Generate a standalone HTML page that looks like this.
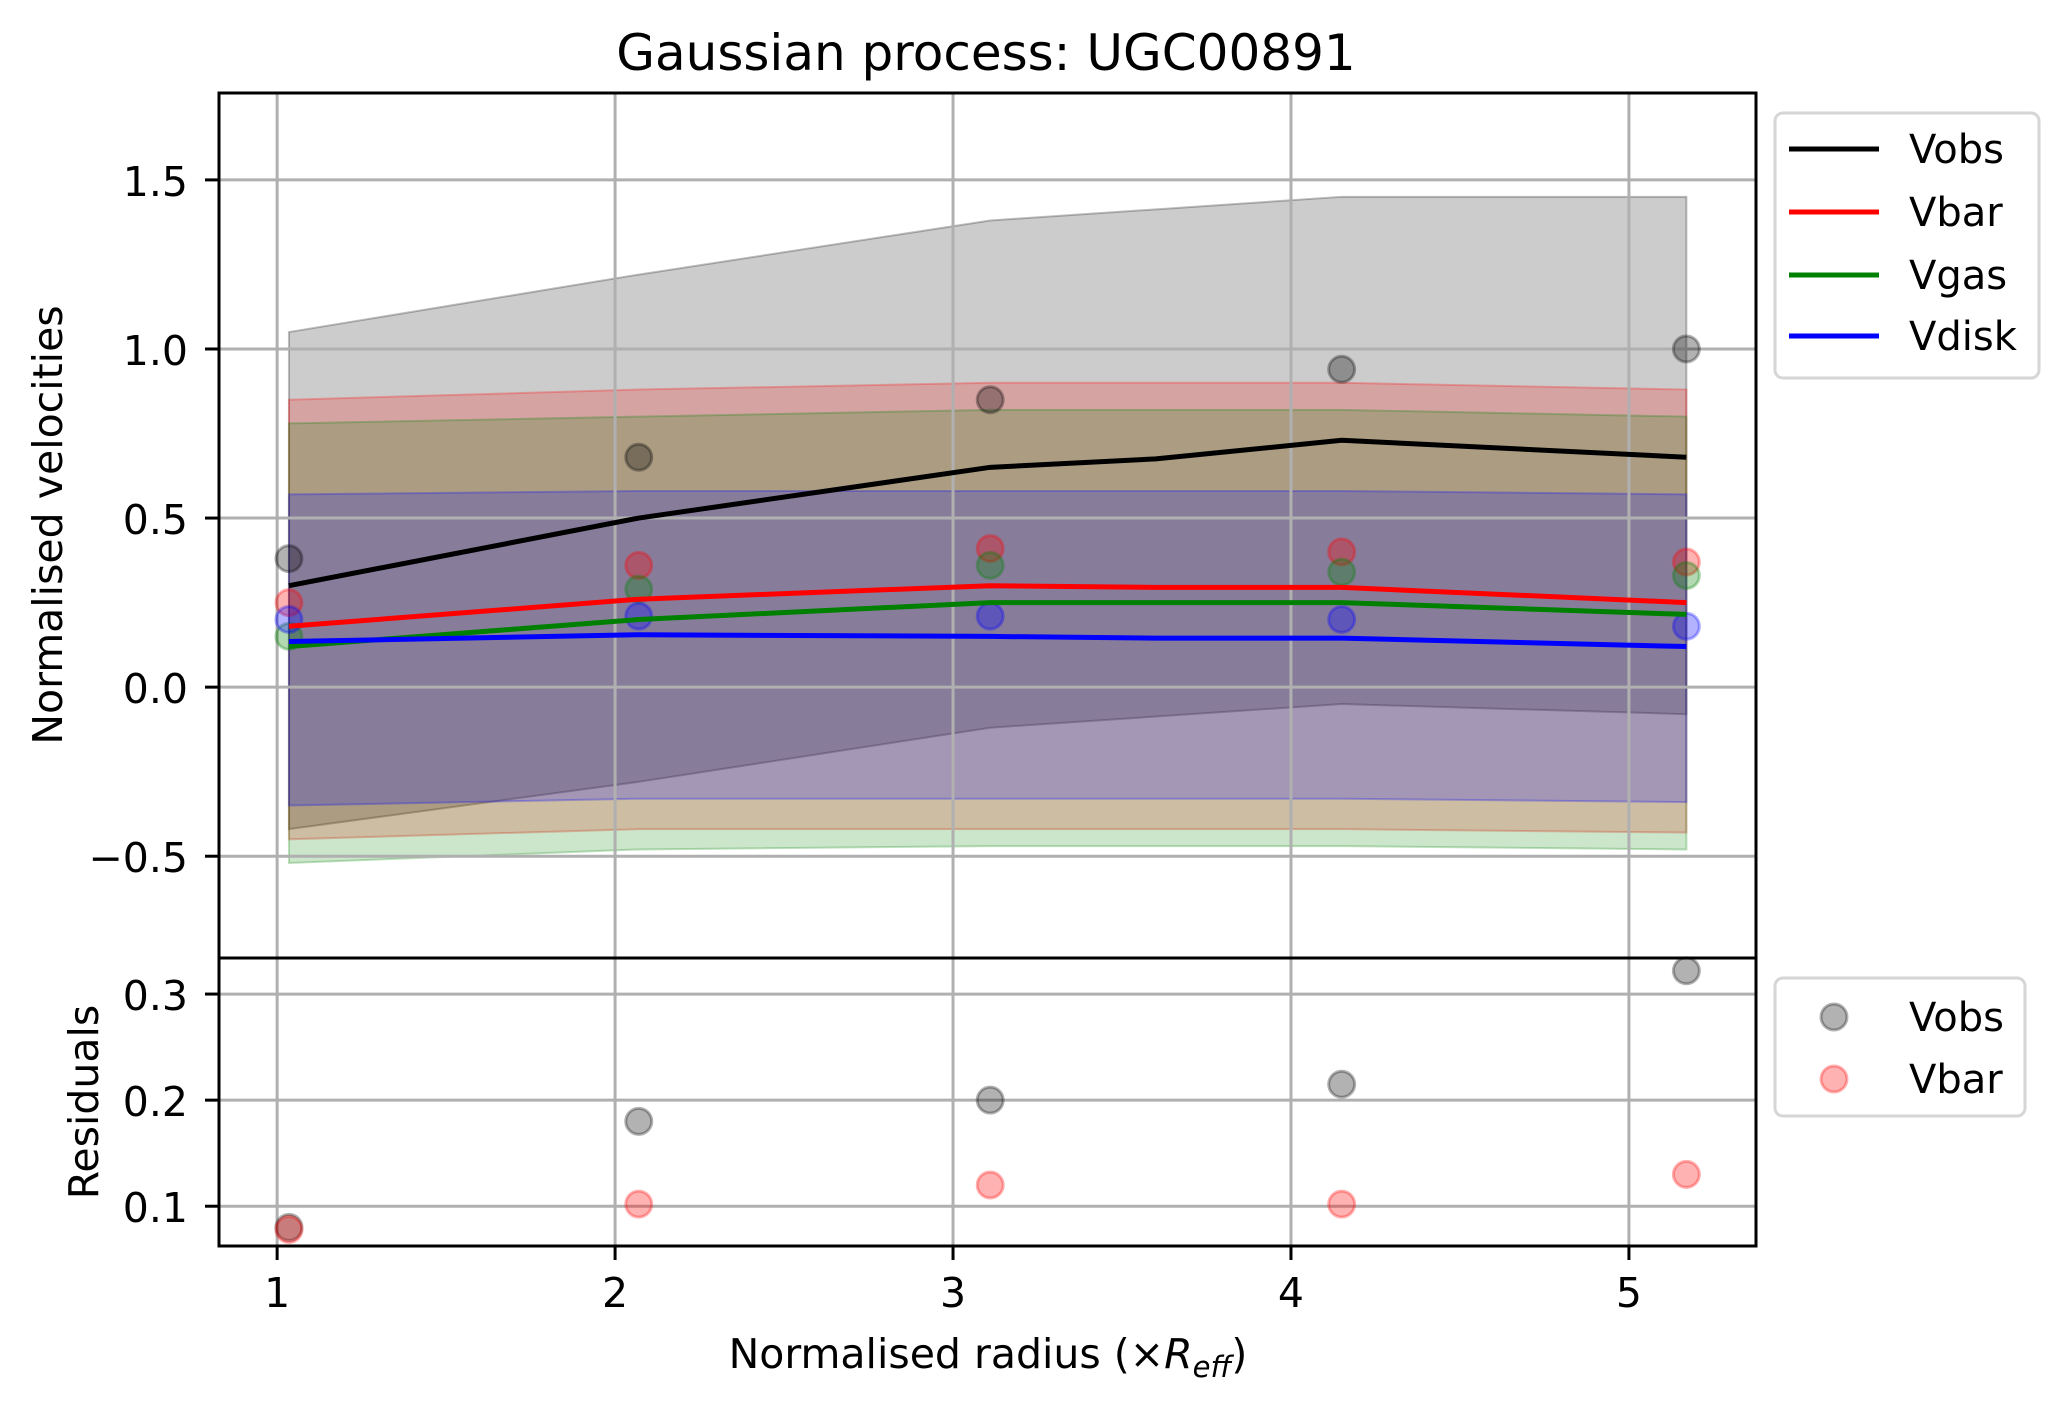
<!DOCTYPE html>
<html><head><meta charset="utf-8"><style>
html,body{margin:0;padding:0;background:#fff;}
svg{display:block;font-family:"DejaVu Sans","Liberation Sans",sans-serif;}
</style></head><body>
<svg id="chart" width="2068" height="1406" viewBox="0 0 2068 1406" xmlns="http://www.w3.org/2000/svg">
<rect width="2068" height="1406" fill="#fff"/>
<text x="986" y="70" font-size="50" text-anchor="middle">Gaussian process: UGC00891</text>
<g id="topAxes"></g>
<g id="botAxes"></g>
<text transform="translate(62,525) rotate(-90)" font-size="41" text-anchor="middle">Normalised velocities</text>
<text transform="translate(98,1102) rotate(-90)" font-size="41" text-anchor="middle">Residuals</text>
<text x="988" y="1368" font-size="41" text-anchor="middle">Normalised radius (×<tspan font-style="italic">R</tspan><tspan font-style="italic" font-size="29" dy="9">eff</tspan><tspan dy="-9">)</tspan></text>
<g>
<rect x="1775" y="113" width="264" height="265" rx="8" fill="#fff" stroke="#d6d6d6" stroke-width="3"/>
<line x1="1789" y1="149" x2="1879" y2="149" stroke="#000" stroke-width="5"/><text x="1909" y="163" font-size="40">Vobs</text>
<line x1="1789" y1="212" x2="1879" y2="212" stroke="#f00" stroke-width="5"/><text x="1909" y="226" font-size="40">Vbar</text>
<line x1="1789" y1="275" x2="1879" y2="275" stroke="#008000" stroke-width="5"/><text x="1909" y="289" font-size="40">Vgas</text>
<line x1="1789" y1="336" x2="1879" y2="336" stroke="#00f" stroke-width="5"/><text x="1909" y="350" font-size="40">Vdisk</text>
</g>
<g>
<rect x="1775" y="978" width="250" height="138" rx="8" fill="#fff" stroke="#d6d6d6" stroke-width="3"/>
<circle cx="1834" cy="1017" r="13" fill="rgba(0,0,0,0.3)" stroke="rgba(0,0,0,0.3)" stroke-width="3"/><text x="1909" y="1031" font-size="40">Vobs</text>
<circle cx="1834" cy="1079" r="13" fill="rgba(255,0,0,0.3)" stroke="rgba(255,0,0,0.3)" stroke-width="3"/><text x="1909" y="1093" font-size="40">Vbar</text>
</g>
</svg>
<script>
const radii=[1.035,2.07,3.11,4.15,5.17];
const lineX=[1.035,2.07,3.11,3.6,4.15,5.17];
const vobsLine=[0.30,0.50,0.65,0.675,0.73,0.68];
const vbarLine=[0.18,0.26,0.30,0.295,0.295,0.25];
const vgasLine=[0.12,0.20,0.25,0.25,0.25,0.215];
const vdiskLine=[0.135,0.155,0.15,0.145,0.145,0.12];
const vobsData=[0.38,0.68,0.85,0.94,1.0];
const vbarData=[0.25,0.36,0.41,0.40,0.37];
const vgasData=[0.15,0.29,0.36,0.34,0.33];
const vdiskData=[0.20,0.21,0.21,0.20,0.18];
const vobsUpper=[1.05,1.22,1.38,1.45,1.45];
const vobsLower=[-0.42,-0.28,-0.12,-0.05,-0.08];
const vbarUpper=[0.85,0.88,0.90,0.90,0.88];
const vbarLower=[-0.45,-0.42,-0.42,-0.42,-0.43];
const vgasUpper=[0.78,0.80,0.82,0.82,0.80];
const vgasLower=[-0.52,-0.48,-0.47,-0.47,-0.48];
const vdiskUpper=[0.57,0.58,0.58,0.58,0.57];
const vdiskLower=[-0.35,-0.33,-0.33,-0.33,-0.34];
const resVobs=[0.08,0.18,0.20,0.215,0.322];
const resVbar=[0.078,0.102,0.12,0.102,0.13];
const xTicks=[1,2,3,4,5];
const yTicksTop=[-0.5,0.0,0.5,1.0,1.5];
const yTickLabelsTop=["\u22120.5","0.0","0.5","1.0","1.5"];
const yTicksBot=[0.1,0.2,0.3];
const yTickLabelsBot=["0.1","0.2","0.3"];

const NS='http://www.w3.org/2000/svg';
const L=219,R=1756,T1=93,B1=958,T2=958,B2=1246;
const xMin=0.828,xMax=5.376;
const sx=v=>L+(v-xMin)/(xMax-xMin)*(R-L);
const syT=v=>T1+(1.757-v)/(1.757+0.801)*(B1-T1);
const syB=v=>T2+(0.334-v)/(0.334-0.0625)*(B2-T2);
function mk(parent,tag,attrs){const e=document.createElementNS(NS,tag);for(const k in attrs)e.setAttribute(k,attrs[k]);parent.appendChild(e);return e;}
const gTop=document.getElementById('topAxes'),gBot=document.getElementById('botAxes');

function band(up,lo,col,name){
  let d='M'+radii.map((x,i)=>sx(x)+','+syT(up[i])).join(' L');
  d+=' L'+radii.slice().reverse().map((x,j)=>sx(x)+','+syT(lo[radii.length-1-j])).join(' L')+'Z';
  const p=mk(gTop,'path',{d:d,fill:col,'fill-opacity':0.2,stroke:col,'stroke-opacity':0.25,'stroke-width':2});
  
  
}
band(vobsUpper,vobsLower,'#000','vobs-band');
band(vbarUpper,vbarLower,'#f00','vbar-band');
band(vgasUpper,vgasLower,'#008000','vgas-band');
band(vdiskUpper,vdiskLower,'#00f','vdisk-band');

function grids(g,sy,yt,yl,top_,bottom,nm){
  xTicks.forEach(t=>{const l=mk(g,'line',{x1:sx(t),x2:sx(t),y1:top_,y2:bottom,stroke:'#b0b0b0','stroke-width':3});
    
    });
  yt.forEach((t,i)=>{const l=mk(g,'line',{x1:L,x2:R,y1:sy(t),y2:sy(t),stroke:'#b0b0b0','stroke-width':3});
    
    
    const tk=mk(g,'line',{x1:L-14,x2:L,y1:sy(t),y2:sy(t),stroke:'#000','stroke-width':3});
    
    
    const tx=mk(g,'text',{x:L-31,y:sy(t)+16,'font-size':41,'text-anchor':'end'});tx.textContent=yl[i];
    
    });
}
grids(gTop,syT,yTicksTop,yTickLabelsTop,T1,B1,'top');
grids(gBot,syB,yTicksBot,yTickLabelsBot,T2,B2,'residuals');
xTicks.forEach(t=>{
  const tk=mk(gBot,'line',{x1:sx(t),x2:sx(t),y1:B2,y2:B2+14,stroke:'#000','stroke-width':3});
  
  
  const tx=mk(gBot,'text',{x:sx(t),y:B2+61,'font-size':41,'text-anchor':'middle'});tx.textContent=String(t);
  
  
});

function pts(g,sy,vals,col,name){
  vals.forEach((v,i)=>{const c=mk(g,'circle',{cx:sx(radii[i]),cy:sy(v),r:13,fill:col,'fill-opacity':0.3,stroke:col,'stroke-opacity':0.3,'stroke-width':3});
    
    });
}
pts(gTop,syT,vobsData,'#000','vobs-point');
pts(gTop,syT,vbarData,'#f00','vbar-point');
pts(gTop,syT,vgasData,'#008000','vgas-point');
pts(gTop,syT,vdiskData,'#00f','vdisk-point');

function line(vals,col,name){
  const p=mk(gTop,'polyline',{points:lineX.map((x,i)=>sx(x)+','+syT(vals[i])).join(' '),fill:'none',stroke:col,'stroke-width':5});
  
  
}
line(vobsLine,'#000','vobs-line');
line(vbarLine,'#f00','vbar-line');
line(vgasLine,'#008000','vgas-line');
line(vdiskLine,'#00f','vdisk-line');

pts(gBot,syB,resVobs,'#000','residual-vobs-point');
pts(gBot,syB,resVbar,'#f00','residual-vbar-point');

const f1=mk(gTop,'rect',{x:L,y:T1,width:R-L,height:B1-T1,fill:'none',stroke:'#000','stroke-width':3});


const f2=mk(gBot,'rect',{x:L,y:T2,width:R-L,height:B2-T2,fill:'none',stroke:'#000','stroke-width':3});


</script>
</body></html>
